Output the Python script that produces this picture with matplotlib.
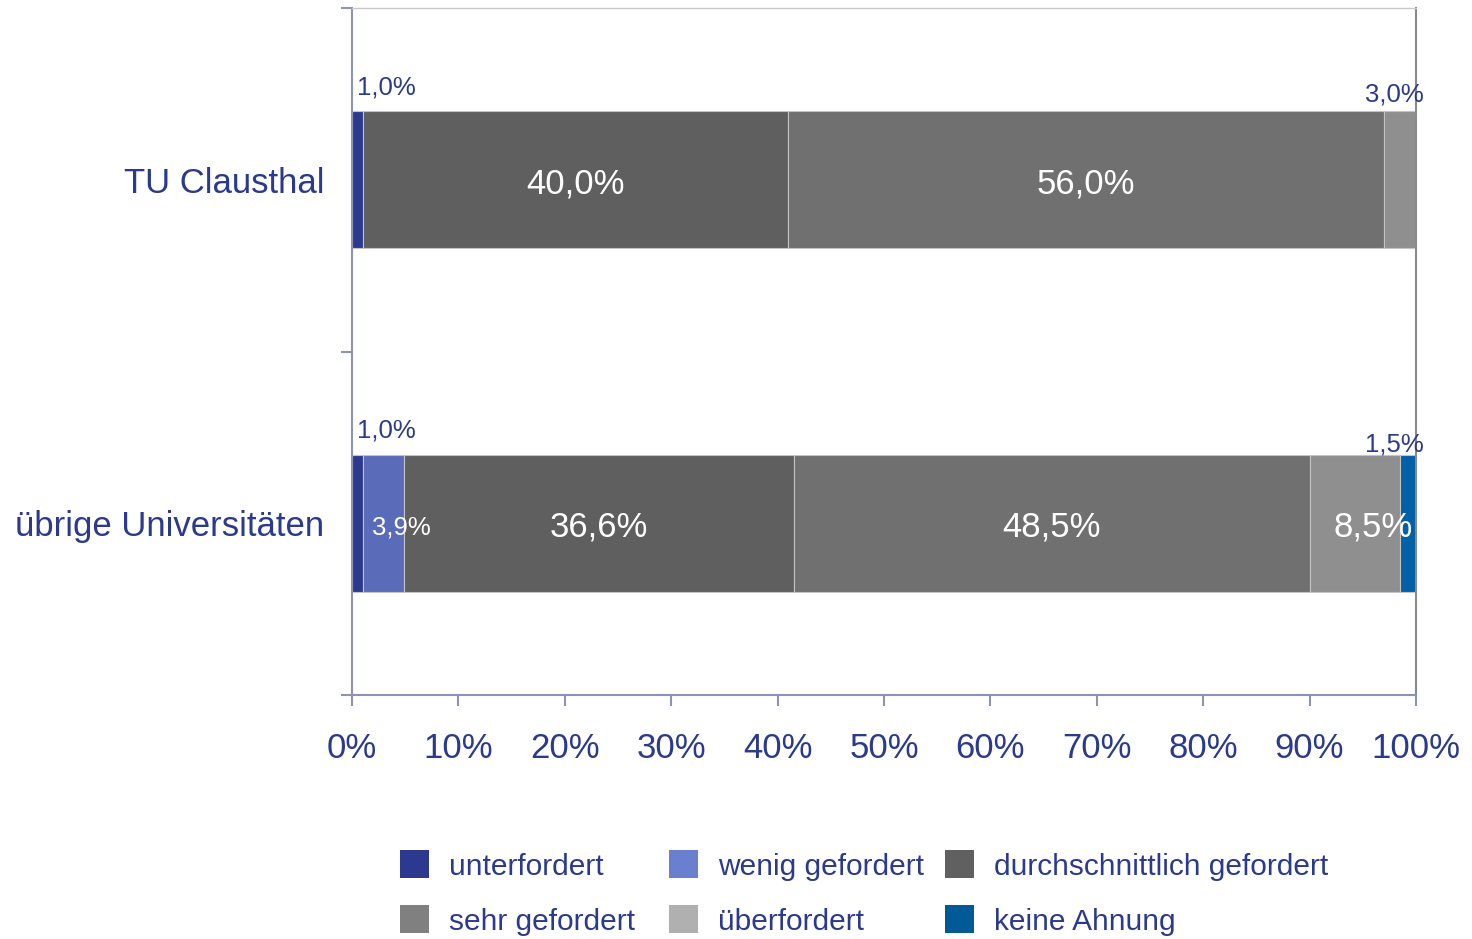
import matplotlib
matplotlib.use("Agg")
import matplotlib.pyplot as plt
from matplotlib.patches import Rectangle
import numpy as np

plt.rcParams['font.family'] = ['Liberation Sans', 'DejaVu Sans']

categories = ["übrige Universitäten", "TU Clausthal"]
series = ["unterfordert", "wenig gefordert", "durchschnittlich gefordert",
          "sehr gefordert", "überfordert", "keine Ahnung"]
values = {
    "TU Clausthal":          [1.0, 0.0, 40.0, 56.0, 3.0, 0.0],
    "übrige Universitäten":  [1.0, 3.9, 36.6, 48.5, 8.5, 1.5],
}
value_labels = {
    "TU Clausthal":          ["1,0%", "", "40,0%", "56,0%", "3,0%", ""],
    "übrige Universitäten":  ["1,0%", "3,9%", "36,6%", "48,5%", "8,5%", "1,5%"],
}
xticks = [0, 10, 20, 30, 40, 50, 60, 70, 80, 90, 100]
xticklabels = ["0%", "10%", "20%", "30%", "40%", "50%", "60%", "70%", "80%", "90%", "100%"]

bar_colors = ["#2B3A8F", "#5A6BBA", "#5F5F5F", "#707070", "#8F8F8F", "#0060A8"]
legend_colors = ["#2B3A8F", "#6B7FD0", "#606060", "#808080", "#B0B0B0", "#005A96"]
text_color = "#2B3A8F"

fig = plt.figure(figsize=(14.72, 9.39), dpi=100)
ax = fig.add_axes([352/1472, 1-695/939, (1416-352)/1472, (695-8)/939])

ypos = np.arange(len(categories))
for yi, cat in zip(ypos, categories):
    left = 0.0
    for si, v in enumerate(values[cat]):
        if v > 0:
            ax.barh(yi, v, left=left, height=0.4, color=bar_colors[si],
                    edgecolor="#C4C4C4", linewidth=0.8)
        lab = value_labels[cat][si]
        if lab:
            center = left + v / 2
            if v >= 8:
                x = center + (1.7 if v < 20 else 0)
                ax.text(x, yi - 0.012, lab, ha="center", va="center", color="white", fontsize=25)
            elif si == 1:
                ax.text(center + 1.65, yi - 0.012, lab, ha="center", va="center",
                        color="white", fontsize=18.5)
            else:
                if si == 0:
                    ax.text(left + 0.45, yi + 0.27, lab, ha="left", va="center",
                            color=text_color, fontsize=18.5)
                else:
                    dy = 0.247 if cat == "TU Clausthal" else 0.23
                    ax.text(98.0, yi + dy, lab, ha="center", va="center",
                            color=text_color, fontsize=18.5)
        left += v

ax.set_xlim(0, 100)
ax.set_ylim(-0.5, 1.5)
ax.set_xticks(xticks)
ax.set_xticklabels(xticklabels)
ax.set_yticks(ypos)
ax.set_yticklabels(categories)
ax.set_yticks([-0.5, 0.5, 1.5], minor=True)

axis_col = "#8C93B5"
ax.tick_params(axis="x", length=8, width=1.5, color=axis_col, labelsize=25,
               labelcolor=text_color, pad=19)
ax.tick_params(axis="y", which="major", length=0, labelsize=25,
               labelcolor=text_color, pad=20)
ax.tick_params(axis="y", which="minor", length=8, width=1.5, color=axis_col)
ax.spines["left"].set_color(axis_col)
ax.spines["bottom"].set_color(axis_col)
ax.spines["left"].set_linewidth(1.5)
ax.spines["bottom"].set_linewidth(1.5)
ax.spines["right"].set_color("#8A8A8A")
ax.spines["right"].set_linewidth(1.5)
ax.spines["top"].set_color("#C8C8C8")
ax.spines["top"].set_linewidth(1.0)

# legend (2 rows x 3 columns)
col_x = [400, 669, 945]
row_y = [864, 919]
for i, (name, col) in enumerate(zip(series, legend_colors)):
    r, c = divmod(i, 3)
    x0 = col_x[c]
    yc = row_y[r]
    fig.patches.append(Rectangle((x0/1472, 1-(yc+14)/939), 29/1472, 28/939,
                                 transform=fig.transFigure, facecolor=col,
                                 edgecolor="none", figure=fig))
    fig.text((x0+49)/1472, 1-(yc+3)/939, name, ha="left", va="center",
             color=text_color, fontsize=21.5)

fig.savefig("out.png", dpi=100)
